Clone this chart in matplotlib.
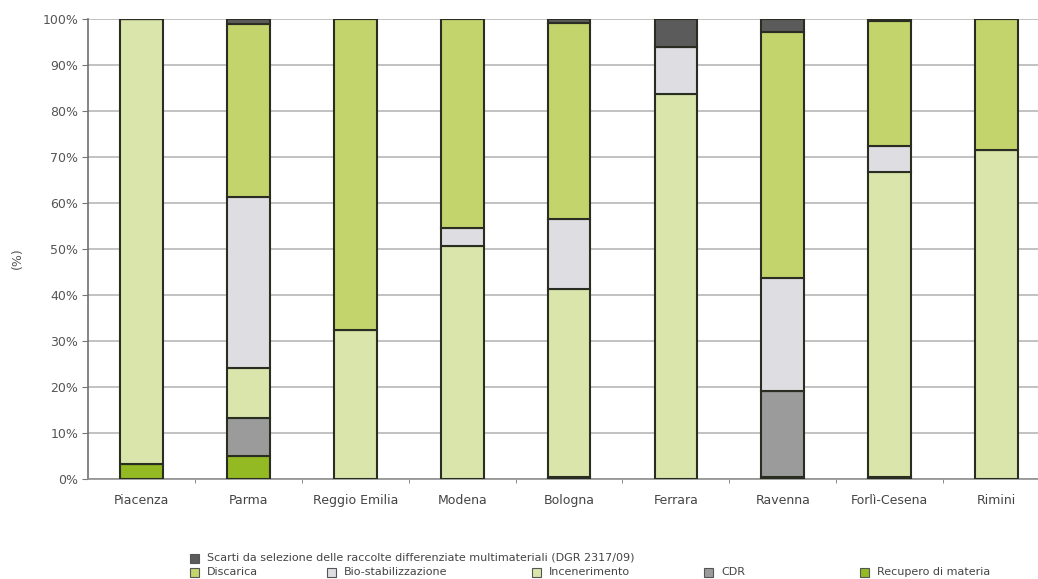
import matplotlib
matplotlib.use("Agg")
import matplotlib.pyplot as plt
from matplotlib.patches import Rectangle
import numpy as np

plt.rcParams['font.family'] = ['Liberation Sans Narrow', 'DejaVu Sans']

provinces = ["Piacenza", "Parma", "Reggio Emilia", "Modena", "Bologna",
             "Ferrara", "Ravenna", "Forlì-Cesena", "Rimini"]

# Shares (%) of each destination, stacked from bottom to top
recupero      = [3.3, 5.0, 0.0, 0.0, 0.4, 0.0, 0.4, 0.4, 0.0]
cdr           = [0.0, 8.2, 0.0, 0.0, 0.0, 0.0, 18.8, 0.0, 0.0]
incenerimento = [96.7, 10.9, 32.5, 50.6, 41.0, 83.8, 0.0, 66.4, 71.5]
biostab       = [0.0, 37.3, 0.0, 4.0, 15.1, 10.2, 24.6, 5.5, 0.0]
discarica     = [0.0, 37.6, 67.5, 45.4, 42.7, 0.0, 53.4, 27.2, 28.5]
scarti        = [0.0, 1.0, 0.0, 0.0, 0.8, 6.0, 2.8, 0.5, 0.0]

series = [
    ("Recupero di materia", recupero, "#93ba22"),
    ("CDR", cdr, "#9b9b9b"),
    ("Incenerimento", incenerimento, "#d9e5aa"),
    ("Bio-stabilizzazione", biostab, "#dedee2"),
    ("Discarica", discarica, "#c4d46c"),
    ("Scarti da selezione delle raccolte differenziate multimateriali (DGR 2317/09)",
     scarti, "#5b5b5b"),
]

yticks = [0, 10, 20, 30, 40, 50, 60, 70, 80, 90, 100]
ytick_labels = [f"{v}%" for v in yticks]

fig = plt.figure(figsize=(10.38, 5.79), dpi=100)
ax = fig.add_axes([0.0848, 0.1727, 0.9268, 0.7945])

x = np.arange(len(provinces))
bottom = np.zeros(len(provinces))
edge = "#2a2e22"
for name, vals, color in series:
    vals = np.array(vals, dtype=float)
    ax.bar(x, vals, width=0.40, bottom=bottom, color=color,
           edgecolor=edge, linewidth=1.5, zorder=3)
    bottom += vals

ax.set_xlim(-0.5, 8.5)
ax.set_ylim(0, 100)
ax.set_yticks(yticks)
ax.set_yticklabels(ytick_labels, color="#555555", fontsize=9)
ax.yaxis.grid(True, color="#b8b8b8", linewidth=1.2, zorder=0)
ax.set_axisbelow(True)

ax.set_xticks(x)
ax.set_xticklabels(provinces, color="#444444", fontsize=9)
ax.tick_params(axis="x", which="major", length=0, pad=11)
ax.set_xticks(np.arange(len(provinces) - 1) + 0.5, minor=True)
ax.tick_params(axis="x", which="minor", length=3, color="#777777")
ax.tick_params(axis="y", length=4, color="#777777", pad=3)

for s in ["top", "right"]:
    ax.spines[s].set_visible(False)
ax.spines["left"].set_color("#707070")
ax.spines["left"].set_linewidth(1.2)
ax.spines["bottom"].set_color("#909090")
ax.spines["bottom"].set_linewidth(1.2)

fig.text(17 / 1038, 1 - 258 / 579, "(%)", rotation=90, ha="center", va="center",
         color="#555555", fontsize=9)

# Legend laid out in two rows below the axis
W, H = 1038.0, 579.0
sq = 9
legend_rows = [
    [(190, series[5])],
    [(190, series[4]), (327, series[3]), (532, series[2]),
     (704, series[1]), (860, series[0])],
]
row_y = [558, 572]
for ry, row in zip(row_y, legend_rows):
    for lx, (name, _, color) in row:
        fig.patches.append(Rectangle((lx / W, 1 - (ry + sq / 2) / H), sq / W, sq / H,
                                     transform=fig.transFigure, facecolor=color,
                                     edgecolor="#555555", linewidth=0.8))
        fig.text((lx + 17) / W, 1 - ry / H, name, ha="left", va="center",
                 fontsize=8, color="#444444")

fig.savefig("out.png", dpi=100)
